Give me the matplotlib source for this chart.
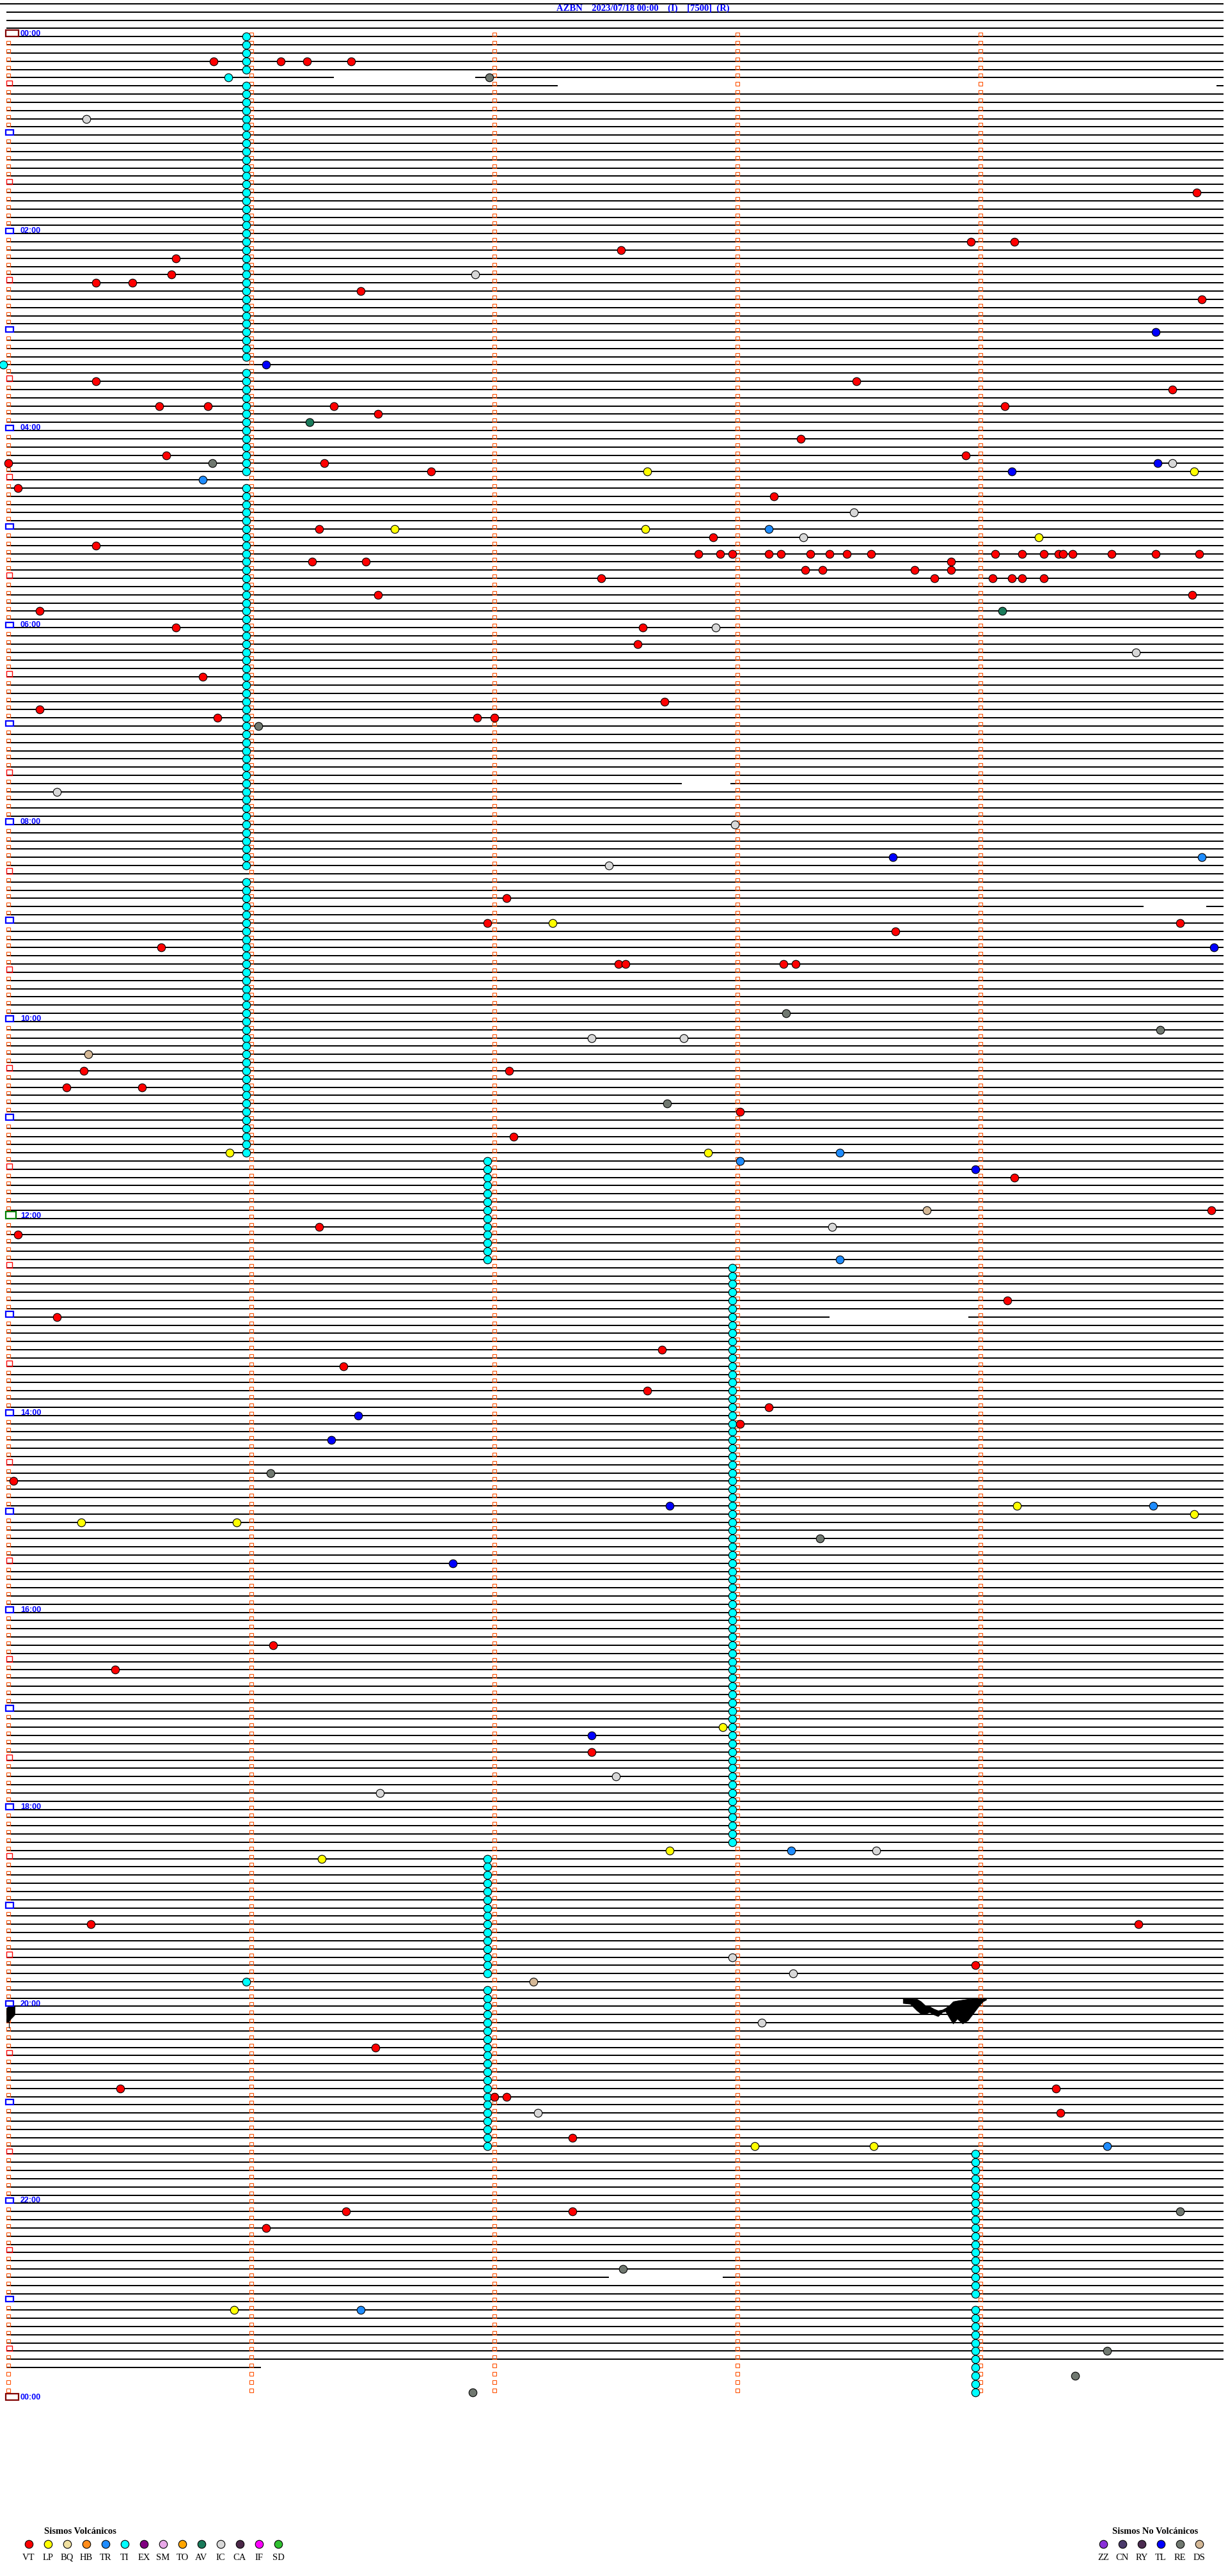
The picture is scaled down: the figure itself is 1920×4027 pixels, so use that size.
import numpy as np
import matplotlib.pyplot as plt
from matplotlib.patches import Rectangle

# helicorder: one row = 5 minutes, 288 rows per day
title = 'AZBN    2023/07/18 00:00    (I)    [7500]  (R)'
n_rows = 288
last_trace_row = 284
trace_end_last = 1.04          # minute where the last row stops

# events as (row, minute within row)
vt = [(3, 0.845), (3, 1.12), (3, 1.23), (3, 1.41), (19, 4.89), (25, 3.96), (25, 4.14),
      (26, 2.52), (27, 0.69), (29, 0.67), (30, 0.36), (30, 0.51), (31, 1.45), (32, 4.91),
      (42, 0.36), (42, 3.49), (43, 4.79), (45, 0.62), (45, 0.82), (45, 1.34), (45, 4.10),
      (46, 1.52), (49, 3.26), (51, 0.65), (51, 3.94), (52, 0.0), (52, 1.30), (53, 1.74),
      (55, 0.04), (56, 3.15), (60, 1.28), (61, 2.90), (62, 0.36),
      (63, 2.84), (63, 2.93), (63, 2.98), (63, 3.13), (63, 3.18), (63, 3.30), (63, 3.38),
      (63, 3.45), (63, 3.55), (63, 4.06), (63, 4.17), (63, 4.26), (63, 4.32), (63, 4.34),
      (63, 4.38), (63, 4.54), (63, 4.72), (63, 4.90),
      (64, 1.25), (64, 1.47), (64, 3.88), (65, 3.28), (65, 3.35), (65, 3.73), (65, 3.88),
      (66, 2.44), (66, 3.81), (66, 4.05), (66, 4.13), (66, 4.17), (66, 4.26),
      (68, 1.52), (68, 4.87), (70, 0.13), (72, 0.69), (72, 2.61), (74, 2.59), (78, 0.80),
      (81, 2.70), (82, 0.13), (83, 0.86), (83, 1.93), (83, 2.00), (105, 2.05), (108, 1.97),
      (108, 4.82), (109, 3.65), (111, 0.63), (113, 2.51), (113, 2.54), (113, 3.19),
      (113, 3.24), (126, 0.31), (126, 2.06), (128, 0.24), (128, 0.55), (131, 3.01),
      (134, 2.08), (139, 4.14), (143, 4.95), (145, 1.28), (146, 0.04), (154, 4.11),
      (156, 0.20), (160, 2.69), (162, 1.38), (165, 2.63), (167, 3.13), (169, 3.01),
      (176, 0.02), (196, 1.09), (199, 0.44), (209, 2.40), (230, 0.34), (230, 4.65),
      (235, 3.98), (245, 1.51), (250, 0.46), (250, 4.31), (251, 2.00), (251, 2.05),
      (253, 4.33), (256, 2.32), (265, 1.39), (265, 2.32), (267, 1.06)]
lp = [(53, 2.63), (53, 4.88), (60, 1.59), (60, 2.62), (61, 4.24), (108, 2.24), (136, 0.91),
      (136, 2.88), (179, 4.15), (180, 4.88), (181, 0.30), (181, 0.94), (206, 2.94),
      (221, 2.72), (222, 1.29), (257, 3.07), (257, 3.56), (277, 0.93)]
tr = [(54, 0.80), (60, 3.13), (100, 4.91), (136, 3.42), (137, 3.01), (149, 3.42),
      (179, 4.71), (221, 3.22), (257, 4.52), (277, 1.45)]
tl = [(36, 4.72), (40, 1.06), (52, 4.73), (53, 4.13), (100, 3.64), (111, 4.96), (138, 3.98),
      (168, 1.44), (171, 1.33), (179, 2.72), (186, 1.83), (207, 2.40)]
ic = [(10, 0.32), (29, 1.92), (52, 4.79), (58, 3.48), (61, 3.27), (72, 2.91), (75, 4.64),
      (92, 0.20), (96, 2.99), (101, 2.47), (122, 2.40), (122, 2.78), (145, 3.39),
      (212, 2.50), (214, 1.53), (221, 3.57), (234, 2.98), (236, 3.23), (242, 3.10),
      (253, 2.18)]
re = [(5, 1.98), (52, 0.84), (84, 1.03), (119, 3.20), (121, 4.74), (130, 2.71), (175, 1.08),
      (183, 3.34), (265, 4.82), (272, 2.53), (282, 4.52), (285, 4.39), (287, 1.91)]
av = [(47, 1.24), (70, 4.09)]
ds = [(124, 0.33), (143, 3.78), (237, 2.16)]

# tremor (TI): runs of consecutive rows with one event at about the same minute
ti_runs = [(0, 4, 0.98), (5, 5, 0.905), (6, 39, 0.98), (40, 40, -0.02), (41, 53, 0.98),
           (55, 101, 0.98), (103, 136, 0.98), (137, 149, 1.97), (150, 220, 2.98),
           (222, 236, 1.97), (237, 237, 0.98), (238, 257, 1.97), (258, 275, 3.98),
           (277, 287, 3.98)]

# missing pieces of trace: (row, from minute, to minute)
gaps = [(5, 1.34, 1.92), (6, 2.26, 4.97), (91, 2.77, 2.97), (106, 4.67, 4.93),
        (156, 3.38, 3.95), (273, 2.47, 2.94)]

# large signal around 19:55 (envelope, in rows)
wave_min = [3.681, 3.711, 3.738, 3.755, 3.773, 3.790, 3.808, 3.825, 3.843, 3.856, 3.874,
            3.887, 3.904, 3.926, 3.948, 3.974, 3.992, 4.010, 4.023]
wave_top = [239.05, 239.05, 239.1, 239.4, 239.9, 240.0, 240.3, 240.5, 240.4, 240.2, 239.8,
            239.4, 239.3, 239.2, 239.1, 239.05, 239.05, 239.05, 239.05]
wave_bot = [239.6, 239.7, 240.5, 240.9, 240.9, 240.7, 241.0, 241.2, 240.7, 240.6, 241.5,
            242.1, 241.5, 242.1, 241.7, 240.7, 240.0, 239.4, 239.2]
blob_min = [-0.008, 0.0, 0.01, 0.02, 0.026]
blob_top = [240.2, 240.0, 240.0, 240.0, 240.0]
blob_bot = [241.9, 241.9, 241.5, 241.2, 241.0]

volc_codes = ['VT', 'LP', 'BQ', 'HB', 'TR', 'TI', 'EX', 'SM', 'TO', 'AV', 'IC', 'CA', 'IF', 'SD']
volc_colors = ['#FF0000', '#FFFF00', '#F0E0A0', '#FF8C1A', '#1E8CFF', '#00FFFF', '#800080',
               '#E8A8E8', '#FFA500', '#1A7A5A', '#D8D8D8', '#4B2848', '#FF00FF', '#30C030']
novolc_codes = ['ZZ', 'CN', 'RY', 'TL', 'RE', 'DS']
novolc_colors = ['#8A30D8', '#4A3A6A', '#4B2B50', '#0000FF', '#707870', '#D4B896']
col = dict(zip(volc_codes + novolc_codes, volc_colors + novolc_colors))

# pixel <-> data helpers (380 px per minute, 12.83 px per row)
PXM, PXR, X0, Y0 = 380.0, 12.83, 13.0, 57.3
W, H = 1920, 4027
def X(px):
    return (px - X0) / PXM
def Y(py):
    return (py - Y0) / PXR

fig = plt.figure(figsize=(W / 100, H / 100), dpi=100)
ax = fig.add_axes([0, 0, 1, 1])
ax.set_xlim(X(0), X(W))
ax.set_ylim(Y(H), Y(0))
ax.axis('off')

# trace rows
for k in range(-4, last_trace_row + 1):
    x_start = X(0) if k == -4 else X(10)
    x_end = trace_end_last if k == last_trace_row else 5.0
    pieces = [(x_start, x_end)]
    for g in gaps:
        if g[0] == k:
            new = []
            for a, b in pieces:
                if g[1] > a and g[2] < b:
                    new += [(a, g[1]), (g[2], b)]
                else:
                    new.append((a, b))
            pieces = new
    for a, b in pieces:
        ax.plot([a, b], [k, k], color='black', lw=1.44, solid_capstyle='butt',
                snap=True, zorder=2)

# minute ticks (little open boxes sitting on the rows)
dy = 3.0 / PXR
for m in range(5):
    rows = [k for k in range(n_rows) if m > 0 or k % 6 != 0]
    ax.plot([m] * len(rows), [k - dy for k in rows], 's', ms=4.1, mfc='none',
            mec='#FF5000', mew=0.8, zorder=3)

# hour / half hour boxes at the start of each row
def box(k, x0, x1, h, color, lw):
    ax.add_patch(Rectangle((X(x0), k - h / PXR), (x1 - x0) / PXM, h / PXR, fill=False,
                           edgecolor=color, lw=lw, zorder=4))

for k in range(0, n_rows + 1, 6):
    if k % 12 == 6:
        box(k, 10, 18.7, 8.7, '#FF0000', 1.0)
    elif k % 288 == 0:
        box(k, 9.3, 29.3, 10.5, '#800000', 1.6)
    elif k == 144:
        box(k, 9.3, 25.3, 10.5, '#008000', 1.6)
    else:
        box(k, 9.3, 20.7, 8.5, '#0000FF', 1.6)
    if k % 24 == 0:
        ax.text(X(32), k - 1.0 / PXR, '%02d:00' % ((k // 12) % 24), color='#0000FF',
                family='Liberation Sans', weight='bold', fontsize=9, va='baseline',
                ha='left', zorder=5)

# big signal
ax.fill_between(wave_min, wave_top, wave_bot, color='black', lw=0.6, zorder=3)
ax.fill_between(blob_min, blob_top, blob_bot, color='black', lw=0.6, zorder=3)
ax.plot([X(14), X(14)], [240, Y(3170)], color='black', lw=0.8, zorder=3)

# events
def draw(events, code):
    rows = [e[0] for e in events]
    mins = [e[1] for e in events]
    ax.plot(mins, rows, 'o', ms=9, mfc=col[code], mec='black', mew=0.8, zorder=6)

ti = []
for a, b, m in ti_runs:
    ti += [(k, m) for k in range(a, b + 1)]
draw(ti, 'TI')
for events, code in [(re, 'RE'), (ic, 'IC'), (ds, 'DS'), (av, 'AV'), (tl, 'TL'),
                     (tr, 'TR'), (lp, 'LP'), (vt, 'VT')]:
    draw(events, code)

ax.text(X(1005), Y(13), title, color='#0000FF', family='Liberation Serif', weight='bold',
        fontsize=10.5, ha='center', va='center', zorder=5)

# legends
ax.text(X(125), Y(3957), 'Sismos Volcánicos', family='Liberation Serif', weight='bold',
        fontsize=10.5, ha='center', va='center')
for i, (c, cc) in enumerate(zip(volc_codes, volc_colors)):
    px = 45 + 30 * i
    ax.plot(X(px), Y(3977), 'o', ms=9, mfc=cc, mec='black', mew=0.8)
    ax.text(X(px), Y(3998), c, family='Liberation Serif', fontsize=10.5, ha='center',
            va='center')
ax.text(X(1806), Y(3957), 'Sismos No Volcánicos', family='Liberation Serif', weight='bold',
        fontsize=10.5, ha='center', va='center')
for i, (c, cc) in enumerate(zip(novolc_codes, novolc_colors)):
    px = 1725 + 30 * i
    ax.plot(X(px), Y(3977), 'o', ms=9, mfc=cc, mec='black', mew=0.8)
    ax.text(X(px), Y(3998), c, family='Liberation Serif', fontsize=10.5, ha='center',
            va='center')

fig.savefig('out.png', dpi=100, facecolor='white')
